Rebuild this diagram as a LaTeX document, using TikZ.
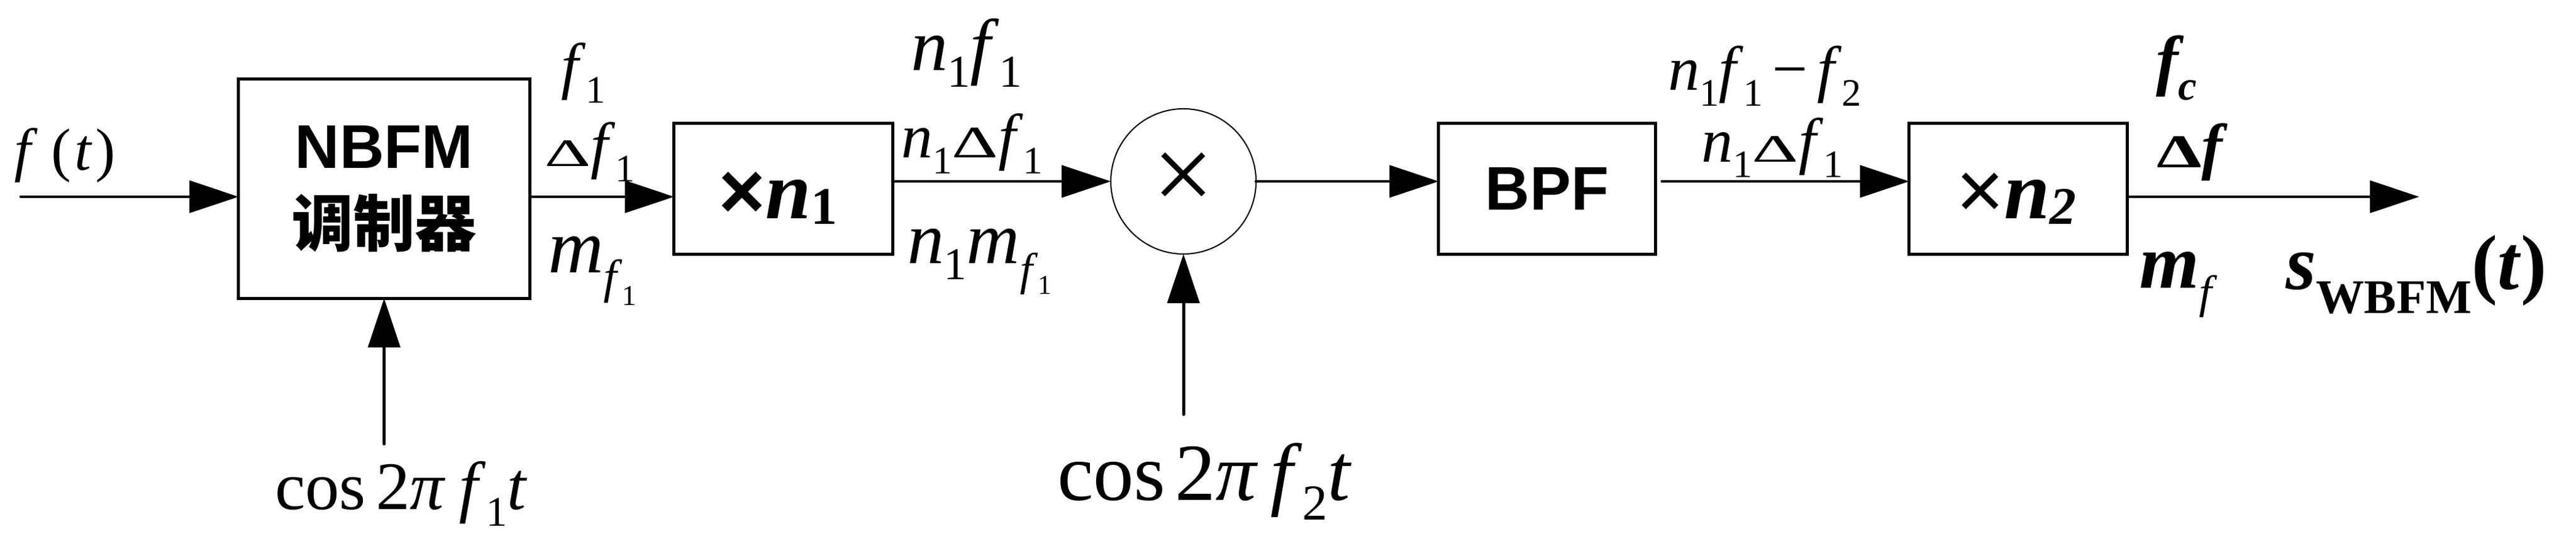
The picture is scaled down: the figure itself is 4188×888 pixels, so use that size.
\documentclass[tikz,border=0pt]{standalone}
\usepackage{fontspec}
\setmainfont{Liberation Serif}
\newfontfamily\arial{Liberation Sans}
\newfontfamily\cjk{Noto Sans CJK SC}
\usetikzlibrary{arrows.meta,calc}
\newcommand\fsz[1]{\fontsize{#1}{#1}\selectfont}
\newcommand\lsub[2][0.25em]{\raisebox{-#1}{\scalebox{0.62}{#2}}}
\newcommand\msub[3][0.25em]{\raisebox{-#1}{\scalebox{#2}{#3}}}
\newcommand\dlt[1][0.62]{\scalebox{1.15}[#1]{Δ}}
\begin{document}
\begin{tikzpicture}[x=0.01cm,y=-0.01cm,
  box/.style={draw, line width=1.42pt, inner sep=0pt, outer sep=0pt, align=center},
  conn/.style={line width=1.42pt, line cap=round, -{Triangle[length=0.8cm,width=0.52cm]}},
  lbl/.style={anchor=base west, inner sep=0pt, outer sep=0pt},
]
\useasboundingbox (0,0) rectangle (4188,888);

% blocks
\node[box, minimum width=4.73cm, minimum height=3.56cm,
      font=\fontsize{28.5}{36}\selectfont\bfseries] (nbfm) at (624.5,307)
      {{\arial NBFM}\\{\cjk 调制器}};
\node[box, minimum width=3.55cm, minimum height=2.12cm] (xn1) at (1273.5,307) {};
\node[lbl] (xn1t) at (1168,355) {{\arial\bfseries\fsz{37}×}{\fsz{38}\bfseries\itshape n}\msub[0.28em]{0.66}{\fsz{37}\bfseries 1}};
\node[circle, draw, line width=0.57pt, minimum size=2.36cm, inner sep=0pt, outer sep=0pt] (mix) at (1924,295) {};
\node[inner sep=0pt] (mixx) at (mix.center) {\fsz{50}×};
\node[box, minimum width=3.52cm, minimum height=2.12cm,
      font=\arial\bfseries\fsz{28.5}] (bpf) at (2515,307) {BPF};
\node[box, minimum width=3.54cm, minimum height=2.12cm] (xn2) at (3281,307) {};
\node[lbl] (xn2t) at (3180,355) {{\arial\fsz{38}×}{\fsz{38}\bfseries\itshape n}\msub[0.28em]{0.66}{\fsz{37}\bfseries\itshape 2}};

% input / output / local oscillators
\coordinate (in) at (34,320);
\coordinate (out) at (3933,320);
\coordinate (lo1) at (624.5,722);
\coordinate (lo2) at (1924,674);

% connectors
\draw[conn] (in) -- (in -| nbfm.west);
\draw[conn] ($(nbfm.east)+(0,13)$) -- ($(xn1.west)+(0,13)$);
\draw[conn] ($(xn1.east)+(0,-12)$) -- (mix.west);
\draw[conn] (mix.east) -- (mix.east -| bpf.west);
\draw[conn] ($(bpf.east)+(11,-12)$) -- ($(xn2.west)+(0,-12)$);
\draw[conn] ($(xn2.east)+(0,13)$) -- (out);
\draw[conn] (lo1) -- (lo1 |- nbfm.south);
\draw[conn] (lo2) -- (mix.south);

% labels
\node[lbl, font=\fsz{27.5}] (ft) at (24,276) {\textit{f}\hspace{0.22em}(\hspace{0.06em}\textit{t}\hspace{0.06em})};

\node[lbl, font=\fsz{29}] (l1) at (912,142) {\textit{f}\lsub{1}};
\node[lbl, font=\fsz{29}] (l2) at (885,270) {\dlt\textit{f}\lsub{1}};
\node[lbl, font=\fsz{35.5}] (l3) at (891,443) {\textit{m}\msub[0.27em]{0.62}{\textit{f}\msub[0.25em]{0.6}{1}}};

\node[lbl, font=\fsz{34}] (l4) at (1481,115) {\textit{n}\lsub[0.22em]{1}\textit{f}\lsub[0.22em]{1}};
\node[lbl, font=\fsz{29}] (l5) at (1465,257) {\textit{n}\lsub{1}\dlt[0.72]\textit{f}\lsub{1}};
\node[lbl, font=\fsz{34}] (l6) at (1475,428) {\textit{n}\lsub[0.22em]{1}\textit{m}\msub[0.3em]{0.62}{\textit{f}\msub[0.2em]{0.6}{1}}};

\node[lbl, font=\fsz{29}] (l7) at (2712,147) {\textit{n}\lsub{1}\textit{f}\lsub{1}\hspace{0.15em}−\hspace{0.15em}\textit{f}\lsub{2}};
\node[lbl, font=\fsz{29}] (l8) at (2766,263) {\textit{n}\lsub{1}\dlt\textit{f}\lsub{1}};

\node[lbl, font=\fsz{31}\bfseries\itshape] (l9) at (3505,135) {f\lsub{c}};
\node[lbl, font=\fsz{29}\bfseries] (l10) at (3506,272) {\dlt[0.75]\textit{f}};
\node[lbl, font=\fsz{35.5}\bfseries\itshape] (l11) at (3478,468) {m\msub[0.26em]{0.6}{\mdseries f}};
\node[lbl, font=\fsz{36}\bfseries] (l12) at (3716,470) {\textit{s}\msub[0.31em]{0.62}{WBFM}(\textit{t})};

\node[lbl, font=\fsz{31.5}] (c1t) at (447,828) {cos\hspace{0.15em}2\textit{π}\hspace{0.2em}\textit{f}\lsub{1}\textit{t}};
\node[lbl, font=\fsz{37.5}] (c2t) at (1719,813) {cos\hspace{0.12em}2\textit{π}\hspace{0.15em}\textit{f}\lsub{2}\textit{t}};
\end{tikzpicture}
\end{document}
